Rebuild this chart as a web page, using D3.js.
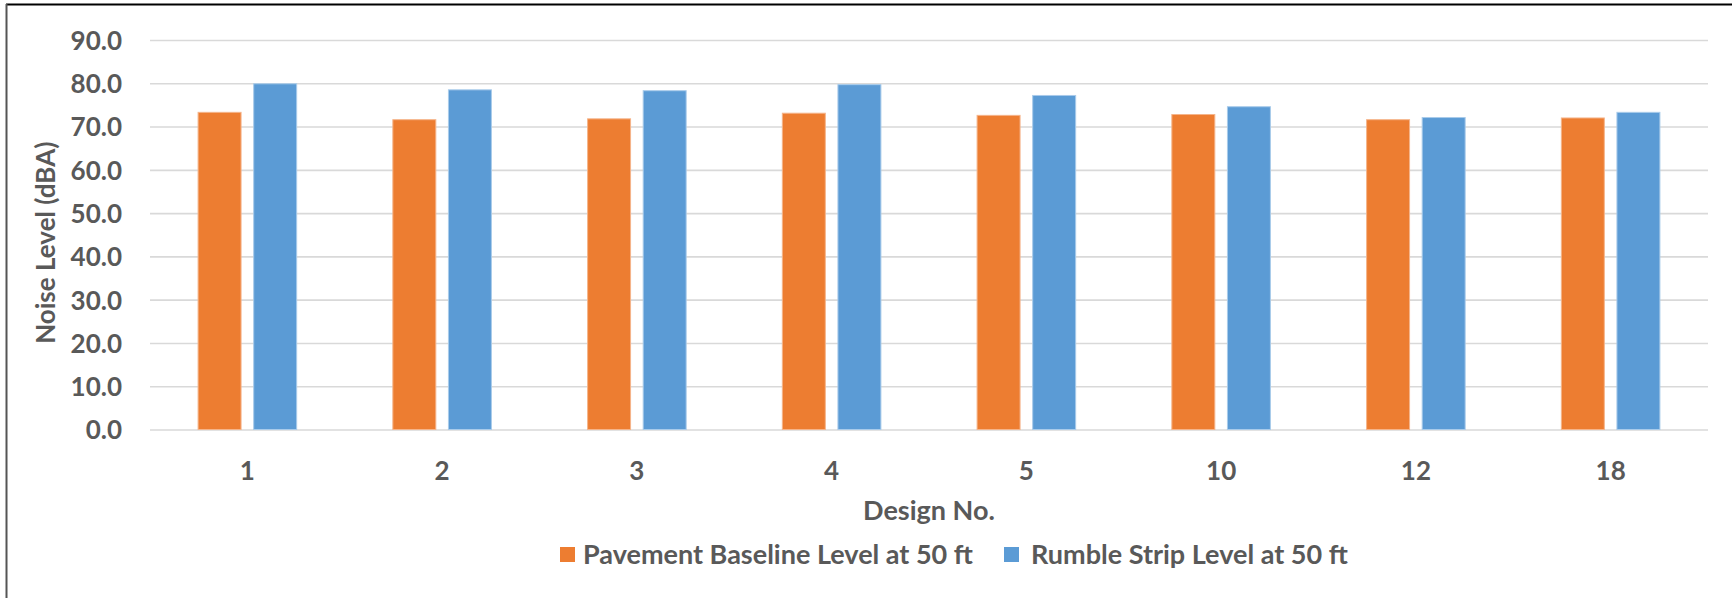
<!DOCTYPE html>
<html>
<head>
<meta charset="utf-8">
<script src="https://cdn.jsdelivr.net/npm/d3@7"></script>
<style>
  html, body { margin: 0; padding: 0; background: #fff; }
  svg { display: block; }
  text { font-family: Lato, "Open Sans", sans-serif; font-weight: 700; fill: #595959; }
</style>
</head>
<body>
<svg id="chart" width="1732" height="598"></svg>
<script>
// Noise level per rumble strip design, pavement baseline vs. rumble strip, at 50 ft
const designs = ["1", "2", "3", "4", "5", "10", "12", "18"];
const seriesNames = ["Pavement Baseline Level at 50 ft", "Rumble Strip Level at 50 ft"];
const baselineLevels = [73.4, 71.7, 71.9, 73.2, 72.7, 72.9, 71.7, 72.1];
const rumbleLevels = [80.0, 78.6, 78.4, 79.8, 77.3, 74.7, 72.2, 73.4];
const yTicks = [0, 10, 20, 30, 40, 50, 60, 70, 80, 90];

const colors = ["#ED7D31", "#5B9BD5"];
const edgeColors = ["#F5B48A", "#A9CBEA"];

const W = 1732, H = 598;
const plot = { left: 150, right: 1708, top: 40, bottom: 429.5 };

const svg = d3.select("#chart");

// frame edges
svg.append("line").attr("x1", 6).attr("x2", W).attr("y1", 4.5).attr("y2", 4.5)
  .attr("stroke", "#000").attr("stroke-width", 2);
svg.append("line").attr("x1", 6.5).attr("x2", 6.5).attr("y1", 4).attr("y2", H)
  .attr("stroke", "#555").attr("stroke-width", 2);

const x0 = d3.scaleBand().domain(designs).range([plot.left, plot.right]).padding(0);
const x1 = d3.scaleBand().domain([0, 1]).range([0, x0.bandwidth()])
  .paddingInner(0.209).paddingOuter(0.856);
const y = d3.scaleLinear().domain([0, 90]).range([plot.bottom, plot.top]);

// gridlines and value labels
const yAxis = d3.axisLeft(y).tickValues(yTicks).tickFormat(d3.format(".1f"))
  .tickSize(-(plot.right - plot.left)).tickPadding(28);
const gy = svg.append("g").attr("transform", `translate(${plot.left},0)`).call(yAxis);
gy.select(".domain").remove();
gy.selectAll(".tick line").attr("stroke", "#D9D9D9").attr("stroke-width", 1.6);
gy.selectAll(".tick text").style("font-size", "26px").attr("fill", "#595959").attr("dy", "0.36em");

// bars
const data = designs.map((d, i) => ({ design: d, values: [baselineLevels[i], rumbleLevels[i]] }));
const groups = svg.append("g").selectAll("g").data(data).join("g")
  .attr("transform", d => `translate(${x0(d.design)},0)`);
groups.selectAll("rect").data(d => d.values.map((v, k) => ({ v, k }))).join("rect")
  .attr("x", d => x1(d.k) + 0.5)
  .attr("width", x1.bandwidth() - 1)
  .attr("y", d => y(d.v) + 0.5)
  .attr("height", d => y(0) - y(d.v) - 0.5)
  .attr("fill", d => colors[d.k])
  .attr("stroke", d => edgeColors[d.k])
  .attr("stroke-width", 1);

// design labels
const xAxis = d3.axisBottom(x0).tickSize(0).tickPadding(0);
const gx = svg.append("g").attr("transform", `translate(0,${plot.bottom})`).call(xAxis);
gx.select(".domain").remove();
gx.selectAll(".tick text").style("font-size", "26px").attr("fill", "#595959")
  .attr("y", 50).attr("dy", 0);

// axis titles
svg.append("text").attr("x", (plot.left + plot.right) / 2).attr("y", 520)
  .attr("text-anchor", "middle").style("font-size", "27px").text("Design No.");
svg.append("text")
  .attr("transform", `translate(55,${(plot.top + plot.bottom) / 2 + 8}) rotate(-90)`)
  .attr("text-anchor", "middle").style("font-size", "26px").text("Noise Level (dBA)");

// legend
const legendItems = [
  { name: seriesNames[0], color: colors[0], sx: 560, tx: 583 },
  { name: seriesNames[1], color: colors[1], sx: 1004, tx: 1031 }
];
const lg = svg.append("g");
lg.selectAll("rect").data(legendItems).join("rect")
  .attr("x", d => d.sx).attr("y", 547).attr("width", 15).attr("height", 15)
  .attr("fill", d => d.color);
lg.selectAll("text").data(legendItems).join("text")
  .attr("x", d => d.tx).attr("y", 564).style("font-size", "27px").text(d => d.name);
</script>
</body>
</html>
